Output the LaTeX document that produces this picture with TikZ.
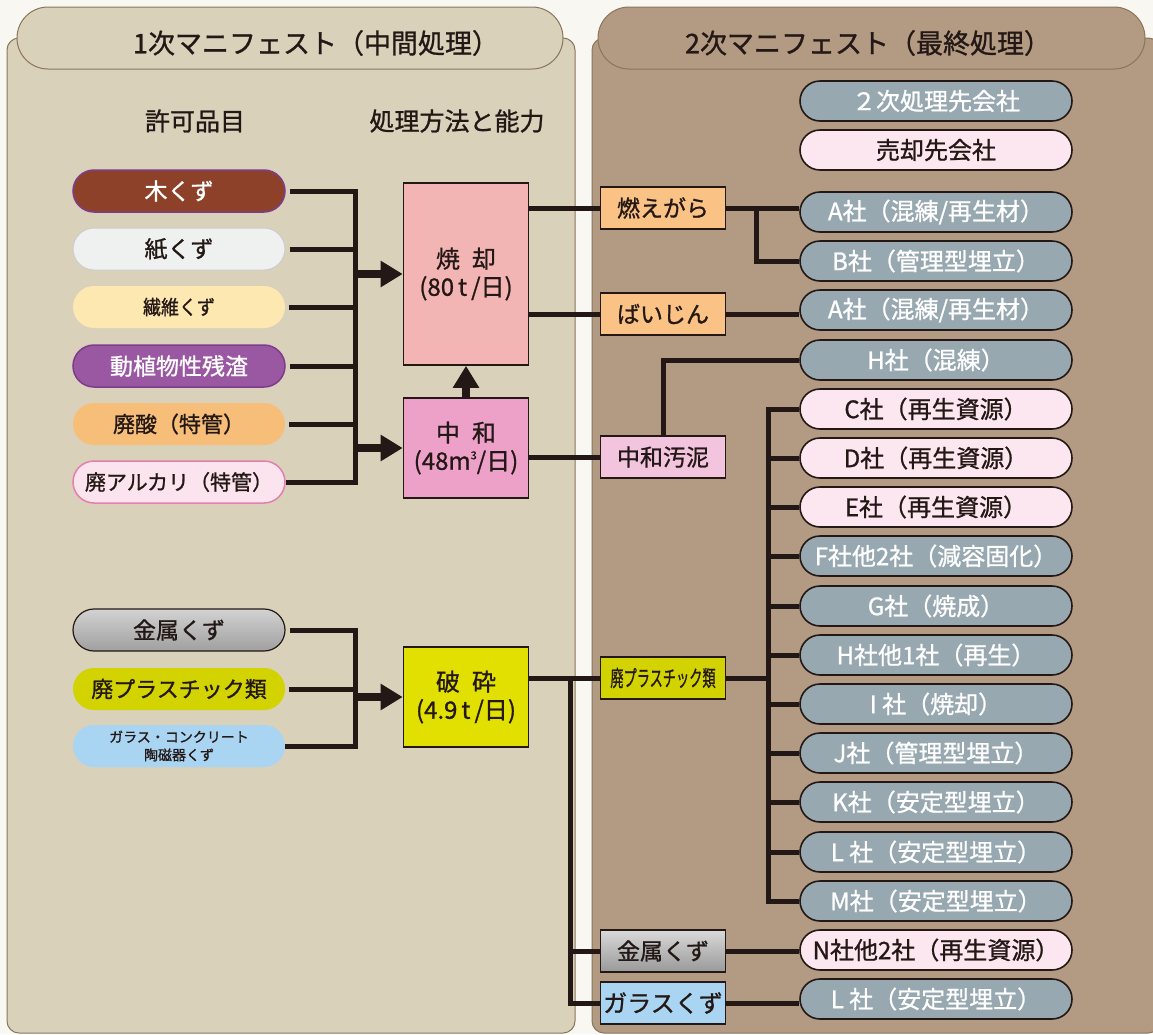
\documentclass[tikz,border=0pt]{standalone}
\usepackage{fontspec}
\setmainfont{Noto Sans CJK JP}[FakeBold=1]
\usetikzlibrary{arrows.meta,shapes.misc}

\definecolor{ink}{HTML}{231815}
\definecolor{paper}{HTML}{F8F7F2}
\definecolor{panelA}{HTML}{D9D1BA}
\definecolor{panelB}{HTML}{B39A83}
\definecolor{rim}{HTML}{8A7658}
\definecolor{wood}{HTML}{8E4129}
\definecolor{woodrim}{HTML}{7E3C8C}
\definecolor{paperw}{HTML}{EEF1EF}
\definecolor{fibre}{HTML}{FDE8B2}
\definecolor{plant}{HTML}{9A58A2}
\definecolor{acid}{HTML}{F6BE78}
\definecolor{alkal}{HTML}{FBE4EE}
\definecolor{alkalrim}{HTML}{E57FAE}
\definecolor{plast}{HTML}{D2D300}
\definecolor{glassc}{HTML}{A9D5F2}
\definecolor{burn}{HTML}{F2B5B4}
\definecolor{neutr}{HTML}{EDA1C8}
\definecolor{crush}{HTML}{E1E000}
\definecolor{ash}{HTML}{FAC284}
\definecolor{sludge}{HTML}{F2C4DE}
\definecolor{firmgray}{HTML}{97A8B0}
\definecolor{firmpink}{HTML}{FCE6F0}

\newcommand{\fs}[1]{\fontsize{#1}{#1}\selectfont}

\tikzset{
  tab/.style={rounded rectangle, draw=rim, line width=1pt, minimum height=62pt, inner sep=0pt},
  item/.style={rounded rectangle, minimum width=212pt, minimum height=42pt, inner sep=0pt, text=ink, font=\fs{23}},
  firm/.style={rounded rectangle, draw=ink, line width=1.6pt, minimum width=272pt, minimum height=40pt, inner sep=0pt, fill=firmgray, text=white, font=\fs{24}},
  sold/.style={firm, fill=firmpink, text=ink},
  proc/.style={draw=ink, line width=1.6pt, minimum width=125pt, inner sep=0pt, text=ink, align=center, font=\fontsize{24}{28}\selectfont},
  waste/.style={draw=ink, line width=1.6pt, minimum width=125pt, minimum height=42pt, inner sep=0pt, text=ink, font=\fs{23}},
  wire/.style={draw=ink, line width=5pt},
  fat/.style={draw=ink, line width=8pt, -{Triangle[length=22pt,width=25pt]}},
}

\begin{document}
\begin{tikzpicture}[x=1pt, y=-1pt]
  \fill[paper] (0,0) rectangle (1153,1034);
  \useasboundingbox (0,0) rectangle (1153,1034);

  % panels and tabs
  \draw[rim, fill=panelA, line width=1pt, rounded corners=12pt] (7,38) rectangle (575,1033);
  \draw[rim, fill=panelB, line width=1pt, rounded corners=12pt] (592,38) rectangle (1160,1033);
  \node[tab, fill=panelA, minimum width=546pt] (tab1) at (290,38) {};
  \node[tab, fill=panelB, minimum width=547pt] (tab2) at (871.5,38) {};
  \node[text=ink, font=\fs{27}] (title1) at (316,43) {1次マニフェスト（中間処理）};
  \node[text=ink, font=\fs{27}] (title2) at (868,43) {2次マニフェスト（最終処理）};
  \node[text=ink, font=\fs{25}] (head1) at (195,121) {許可品目};
  \node[text=ink, font=\fs{25}] (head2) at (457,121) {処理方法と能力};

  % permitted items
  \node[item, fill=wood, draw=woodrim, line width=1.5pt, text=white] (kikuzu) at (179,191) {木くず};
  \node[item, fill=paperw, draw=gray!40, line width=1pt] (kami) at (179,249) {紙くず};
  \node[item, fill=fibre, font=\fs{20}] (seni) at (179,307) {\scalebox{0.9}[1]{繊維くず}};
  \node[item, fill=plant, draw=woodrim, line width=1.5pt, text=white] (zansa) at (179,366) {動植物性残渣};
  \node[item, fill=acid, font=\fs{22}] (haisan) at (179,424) {廃酸（特管）};
  \node[item, fill=alkal, draw=alkalrim, line width=1.5pt, font=\fs{21}] (alkali) at (179,482) {廃アルカリ（特管）};
  \node[item, draw=ink, line width=1.2pt, top color=gray!35, middle color=white, bottom color=gray!75] (kinzoku) at (179,630) {金属くず};
  \node[item, fill=plast, font=\fs{22}] (plastic) at (179,689) {廃プラスチック類};
  \node[item, fill=glassc, align=center, font=\fontsize{14}{18}\selectfont] (glass) at (179,746) {ガラス・コンクリート\\陶磁器くず};

  % processing
  \node[proc, fill=burn, minimum height=182pt] (shokyaku) at (466,274) {焼\hspace{0.5em}却\\(80\,t\,/日)};
  \node[proc, fill=neutr, minimum height=100pt] (chuwa) at (466,448) {中\hspace{0.5em}和\\(48m\raisebox{0.8ex}{\fs{11}3}/日)};
  \node[proc, fill=crush, minimum height=100pt] (hasai) at (466,697) {破\hspace{0.5em}砕\\(4.9\,t\,/日)};

  \coordinate (busA) at (355,0);
  \draw[wire, shorten <=4pt] (kikuzu.east) -- (kikuzu.east -| busA) -- (alkali.east -| busA) -- (alkali.east);
  \foreach \w in {kami,seni,zansa,haisan}
    \draw[wire, shorten <=4pt] (\w.east) -- (\w.east -| busA);
  \draw[wire, shorten <=4pt] (kinzoku.east) -- (kinzoku.east -| busA) -- (glass.east -| busA) -- (glass.east);
  \draw[wire, shorten <=4pt] (plastic.east) -- (plastic.east -| busA);
  \draw[fat] (shokyaku.west -| busA) -- (shokyaku.west);
  \draw[fat] (chuwa.west -| busA) -- (chuwa.west);
  \draw[fat] (hasai.west -| busA) -- (hasai.west);
  \draw[fat] (chuwa.north) -- (shokyaku.south);

  % residues
  \node[waste, fill=ash] (moegara) at (663,208) {燃えがら};
  \node[waste, fill=ash] (baijin) at (663,314) {ばいじん};
  \node[waste, fill=sludge] (odei) at (663,457) {中和汚泥};
  \node[waste, fill=plast, font=\fs{22}] (praw) at (663,678) {\scalebox{0.6}[1]{廃プラスチック類}};
  \node[waste, top color=gray!30, middle color=white, bottom color=gray!80] (metal) at (663,951) {金属くず};
  \node[waste, fill=glassc, font=\fs{24}] (cullet) at (663,1003) {ガラスくず};

  \draw[wire] (moegara.west -| shokyaku.east) -- (moegara.west);
  \draw[wire] (baijin.west -| shokyaku.east) -- (baijin.west);
  \draw[wire] (odei.west -| chuwa.east) -- (odei.west);
  \draw[wire] (praw.west -| hasai.east) -- (praw.west);
  \coordinate (busC) at (570,0);
  \draw[wire] (praw.west -| busC) -- (cullet.west -| busC) -- (cullet.west);
  \draw[wire] (metal.west -| busC) -- (metal.west);

  % second processors
  \node[firm] (key2) at (936,101) {２次処理先会社};
  \node[sold] (keyS) at (936,150) {売却先会社};
  \node[firm] (a1) at (936,212) {A社（混練/再生材）};
  \node[firm] (b1) at (936,261) {B社（管理型埋立）};
  \node[firm] (a2) at (936,310) {A社（混練/再生材）};
  \node[firm] (h1) at (936,360) {H社（混練）};
  \node[sold] (c1) at (936,409) {C社（再生資源）};
  \node[sold] (d1) at (936,458) {D社（再生資源）};
  \node[sold] (e1) at (936,507) {E社（再生資源）};
  \node[firm] (f1) at (936,556) {F社他2社（減容固化）};
  \node[firm] (g1) at (936,606) {G社（焼成）};
  \node[firm] (h2) at (936,655) {H社他1社（再生）};
  \node[firm] (i1) at (936,704) {I 社（焼却）};
  \node[firm] (j1) at (936,753) {J社（管理型埋立）};
  \node[firm] (k1) at (936,802) {K社（安定型埋立）};
  \node[firm] (l1) at (936,852) {L 社（安定型埋立）};
  \node[firm] (m1) at (936,901) {M社（安定型埋立）};
  \node[sold] (n1) at (936,950) {N社他2社（再生資源）};
  \node[firm] (l2) at (936,999) {L 社（安定型埋立）};

  \coordinate (busD) at (756,0);
  \coordinate (busE) at (768,0);
  \draw[wire] (moegara.east) -- (moegara.east -| a1.west);
  \draw[wire] (moegara.east -| busD) -- (b1.west -| busD) -- (b1.west);
  \draw[wire] (baijin.east) -- (baijin.east -| a2.west);
  \draw[wire] (odei.north) |- (h1.west);
  \draw[wire] (praw.east) -- (praw.east -| busE);
  \draw[wire] (c1.west) -- (c1.west -| busE) -- (m1.west -| busE) -- (m1.west);
  \foreach \f in {d1,e1,f1,g1,h2,i1,j1,k1,l1}
    \draw[wire] (\f.west -| busE) -- (\f.west);
  \draw[wire] (metal.east) -- (metal.east -| n1.west);
  \draw[wire] (cullet.east) -- (cullet.east -| l2.west);
\end{tikzpicture}
\end{document}
